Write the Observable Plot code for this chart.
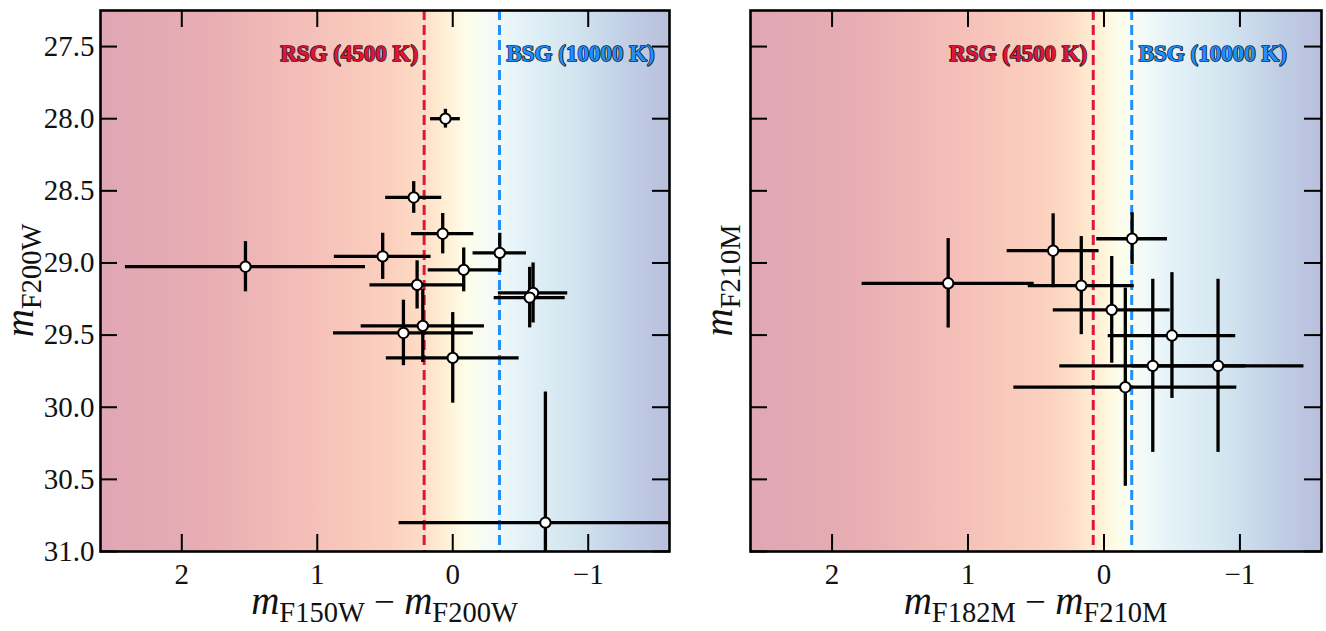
<!DOCTYPE html>
<html><head><meta charset="utf-8">
<script src="https://cdn.jsdelivr.net/npm/d3@7"></script>
<script src="https://cdn.jsdelivr.net/npm/@observablehq/plot@0.6"></script>
<style>
body{margin:0;background:#fff;}
#wrap{display:flex;width:1326px;height:631px;}
#wrap svg{display:block;}
</style></head><body>
<svg width="0" height="0" style="position:absolute"><defs><linearGradient id="bgGrad" x1="0" x2="1" y1="0" y2="0"></linearGradient></defs></svg>
<div id="wrap"></div>
<script>
// ---- data ----
const xTicks = [2, 1, 0, -1];
const yTicks = [27.5, 28.0, 28.5, 29.0, 29.5, 30.0, 30.5, 31.0];

// Left panel: m_F150W - m_F200W vs m_F200W
const colorA    = [0.054, 0.288, 0.074, 0.517, 1.53, -0.347, -0.081, 0.263, -0.593, -0.568, 0.364, 0.221, 0.0, -0.684];
const colorAErr = [0.11, 0.207, 0.23, 0.357, 0.886, 0.197, 0.262, 0.348, 0.256, 0.262, 0.516, 0.455, 0.49, 1.08];
const magA      = [28.0, 28.546, 28.797, 28.954, 29.026, 28.93, 29.048, 29.152, 29.208, 29.24, 29.485, 29.436, 29.658, 30.80];
const magAErr   = [0.065, 0.11, 0.14, 0.16, 0.174, 0.136, 0.152, 0.167, 0.208, 0.21, 0.227, 0.254, 0.314, 0.905];
const rsgA = 0.211, bsgA = -0.345;

// Right panel: m_F182M - m_F210M vs m_F210M
const colorB    = [1.146, 0.374, -0.207, 0.167, -0.057, -0.50, -0.359, -0.839, -0.157];
const colorBErr = [0.633, 0.338, 0.26, 0.39, 0.43, 0.469, 0.684, 0.632, 0.82];
const magB      = [29.141, 28.915, 28.832, 29.157, 29.325, 29.503, 29.713, 29.713, 29.861];
const magBErr   = [0.31, 0.256, 0.18, 0.34, 0.37, 0.436, 0.60, 0.60, 0.687];
const rsgB = 0.079, bsgB = -0.204;

const rsgLabel = "RSG (4500 K)";
const bsgLabel = "BSG (10000 K)";

// background colour ramp (colour index -> RdYlBu position)
const gradX = [2.6, 1.79, 0.99, 0.45, 0.24, 0.05, -0.1, -0.3, -0.48, -0.89, -1.29, -1.6];
const gradT = [0, 0.05, 0.15, 0.22, 0.27, 0.38, 0.5, 0.6, 0.68, 0.78, 0.9, 0.97];

const xDomain = [2.6, -1.6];
const yDomain = [27.25, 31.0];

// ---- gradient ----
const grad = d3.select("#bgGrad");
gradX.forEach((x, i) => {
  const c = d3.rgb(d3.interpolateRdYlBu(gradT[i]));
  const a = 0.35;
  const col = d3.rgb(255 - (255 - c.r) * a, 255 - (255 - c.g) * a, 255 - (255 - c.b) * a);
  grad.append("stop").attr("offset", (xDomain[0] - x) / (xDomain[0] - xDomain[1])).attr("stop-color", col.formatHex());
});

const FONT = "'Liberation Serif', 'DejaVu Serif', serif";
const RED = "#e2143c", BLUE = "#1e90ff";

function panel({width, marginLeft, marginRight, color, colorErr, mag, magErr, rsg, bsg, showY}) {
  const height = 631, marginTop = 10, marginBottom = 80;
  const H = height - marginTop - marginBottom;
  const W = width - marginLeft - marginRight;
  const idx = d3.range(color.length);
  const marks = [
    Plot.frame({fill: "url(#bgGrad)"}),
    Plot.ruleX([rsg], {x: d => d, stroke: RED, strokeWidth: 3, strokeDasharray: "10,5"}),
    Plot.ruleX([bsg], {x: d => d, stroke: BLUE, strokeWidth: 3, strokeDasharray: "10,5"}),
    Plot.ruleY(idx, {y: i => mag[i], x1: i => color[i] - colorErr[i], x2: i => color[i] + colorErr[i], stroke: "black", strokeWidth: 3.3, clip: true}),
    Plot.ruleX(idx, {x: i => color[i], y1: i => mag[i] - magErr[i], y2: i => mag[i] + magErr[i], stroke: "black", strokeWidth: 3.3, clip: true}),
    Plot.dot(idx, {x: i => color[i], y: i => mag[i], r: 5.2, fill: "white", stroke: "black", strokeWidth: 2}),
    Plot.text([rsgLabel], {x: () => rsg, text: d => d, frameAnchor: "top", dy: 34, dx: -6, textAnchor: "end", fill: RED, stroke: "#1a1a1a", strokeWidth: 1.6, paintOrder: "stroke", fontSize: 23, fontWeight: "bold", fontFamily: FONT}),
    Plot.text([bsgLabel], {x: () => bsg, text: d => d, frameAnchor: "top", dy: 34, dx: 7, textAnchor: "start", fill: BLUE, stroke: "#1a1a1a", strokeWidth: 1.6, paintOrder: "stroke", fontSize: 23, fontWeight: "bold", fontFamily: FONT}),
    Plot.tickX(xTicks, {x: d => d, stroke: "black", strokeWidth: 2, insetTop: H - 17}),
    Plot.tickX(xTicks, {x: d => d, stroke: "black", strokeWidth: 2, insetBottom: H - 17}),
    Plot.tickY(yTicks, {y: d => d, stroke: "black", strokeWidth: 2, insetRight: W - 17}),
    Plot.tickY(yTicks, {y: d => d, stroke: "black", strokeWidth: 2, insetLeft: W - 17}),
    Plot.axisX({ticks: xTicks, tickSize: 0, tickPadding: 12, tickFormat: d3.format("d"), label: null, fontSize: 29, fontFamily: FONT, fill: "#111"})
  ];
  if (showY) marks.push(Plot.axisY({ticks: yTicks, tickSize: 0, tickPadding: 6, tickFormat: d3.format(".1f"), label: null, fontSize: 29, fontFamily: FONT, fill: "#111"}));
  marks.push(Plot.frame({stroke: "black", strokeWidth: 2.6}));
  return Plot.plot({
    width, height, marginLeft, marginRight, marginTop, marginBottom,
    x: {domain: xDomain, axis: null},
    y: {domain: yDomain, reverse: true, axis: null},
    style: {fontFamily: FONT, fontSize: "29px", background: "transparent", color: "#111"},
    marks
  });
}

function xLabel(svg, cx, subA, subB) {
  const t = d3.select(svg).append("text").attr("x", cx).attr("y", 614).attr("text-anchor", "middle")
    .attr("font-family", FONT).attr("fill", "#111");
  t.append("tspan").attr("font-style", "italic").attr("font-size", 39).text("m");
  t.append("tspan").attr("font-size", 28.5).attr("dy", 8).text(subA);
  t.append("tspan").attr("font-size", 37).attr("dy", -8).text(" \u2212 ");
  t.append("tspan").attr("font-style", "italic").attr("font-size", 39).text("m");
  t.append("tspan").attr("font-size", 28.5).attr("dy", 8).text(subB);
}
function yLabel(svg, x, cy, sub) {
  const t = d3.select(svg).append("text").attr("transform", `translate(${x},${cy}) rotate(-90)`).attr("text-anchor", "middle")
    .attr("font-family", FONT).attr("fill", "#111");
  t.append("tspan").attr("font-style", "italic").attr("font-size", 39).text("m");
  t.append("tspan").attr("font-size", 28.5).attr("dy", 8).text(sub);
}

const left = panel({width: 690, marginLeft: 100, marginRight: 21, color: colorA, colorErr: colorAErr, mag: magA, magErr: magAErr, rsg: rsgA, bsg: bsgA, showY: true});
const right = panel({width: 636, marginLeft: 60, marginRight: 5, color: colorB, colorErr: colorBErr, mag: magB, magErr: magBErr, rsg: rsgB, bsg: bsgB, showY: false});
xLabel(left, 384.5, "F150W", "F200W");
yLabel(left, 33, 280.5, "F200W");
xLabel(right, 345.5, "F182M", "F210M");
yLabel(right, 42, 280.5, "F210M");
document.getElementById("wrap").append(left, right);
</script>
</body></html>
